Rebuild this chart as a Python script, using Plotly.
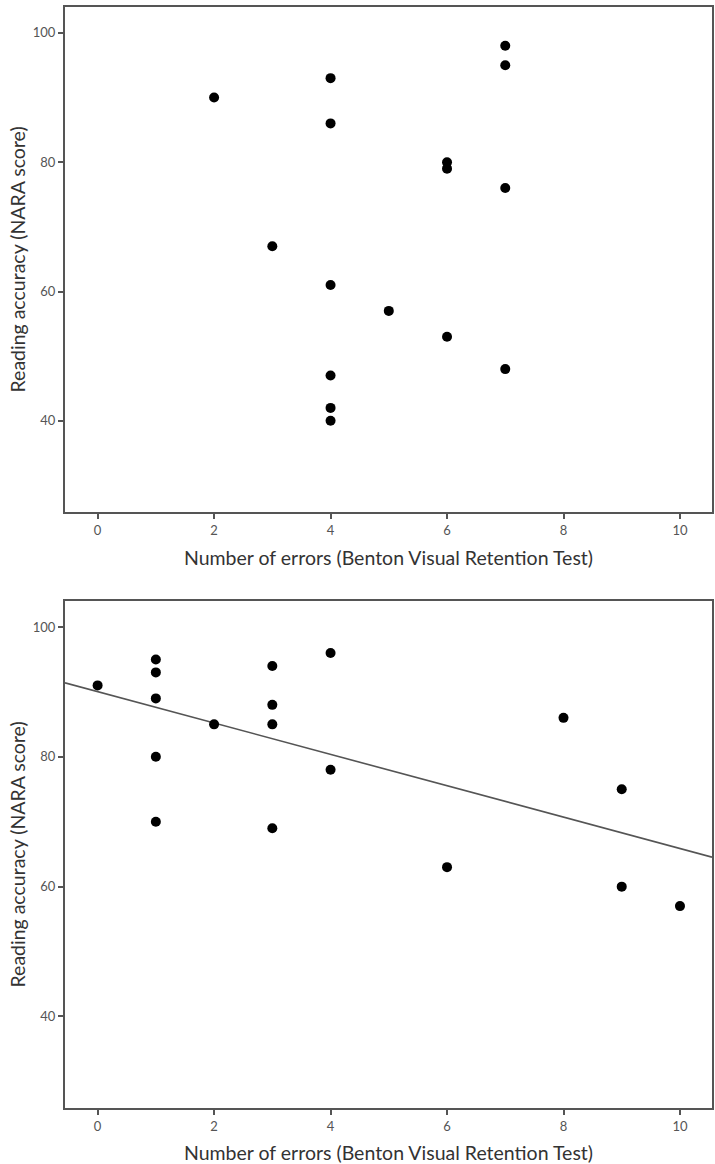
import numpy as np
import plotly.graph_objects as go

# Top panel data
top_errors = [2, 3, 4, 4, 4, 4, 4, 4, 5, 6, 6, 6, 7, 7, 7, 7]
top_nara = [90, 67, 93, 86, 61, 47, 42, 40, 57, 80, 79, 53, 98, 95, 76, 48]

# Bottom panel data
bot_errors = [0, 1, 1, 1, 1, 1, 2, 3, 3, 3, 3, 4, 4, 6, 8, 9, 9, 10]
bot_nara = [91, 95, 93, 89, 80, 70, 85, 94, 88, 85, 69, 96, 78, 63, 86, 75, 60, 57]

x_ticks = [0, 2, 4, 6, 8, 10]
y_ticks = [40, 60, 80, 100]
x_title = "Number of errors (Benton Visual Retention Test)"
y_title = "Reading accuracy (NARA score)"

W, H = 715, 1164
XR = [-0.56, 10.55]
YR = [25.9, 104.0]

# linear fit for bottom panel
slope, intercept = np.polyfit(bot_errors, bot_nara, 1)
fit_x = np.array(XR)
fit_y = slope * fit_x + intercept

fig = go.Figure()
marker = dict(color="black", size=10, line=dict(width=0))
fig.add_trace(go.Scatter(x=top_errors, y=top_nara, mode="markers", marker=marker,
                         xaxis="x", yaxis="y", showlegend=False))
fig.add_trace(go.Scatter(x=fit_x, y=fit_y, mode="lines", line=dict(color="#555555", width=1.6),
                         xaxis="x2", yaxis="y2", showlegend=False, cliponaxis=True))
fig.add_trace(go.Scatter(x=bot_errors, y=bot_nara, mode="markers", marker=marker,
                         xaxis="x2", yaxis="y2", showlegend=False))

xdom = [65 / W, 712 / W]
top_dom = [1 - 512 / H, 1 - 7 / H]
bot_dom = [1 - 1108 / H, 1 - 601 / H]

tickfont = dict(family="Lato", size=13, color="#555555")
axcommon = dict(showline=True, linecolor="#555555", linewidth=2, mirror=True,
                showgrid=False, zeroline=False, ticks="outside", ticklen=5,
                tickwidth=1.5, tickcolor="#555555", tickfont=tickfont)

fig.update_layout(
    width=W, height=H,
    margin=dict(l=0, r=0, t=0, b=0),
    paper_bgcolor="white", plot_bgcolor="white",
    xaxis=dict(domain=xdom, range=XR, tickvals=x_ticks, anchor="y", **axcommon),
    yaxis=dict(domain=top_dom, range=YR, tickvals=y_ticks, anchor="x", **axcommon),
    xaxis2=dict(domain=xdom, range=XR, tickvals=x_ticks, anchor="y2", **axcommon),
    yaxis2=dict(domain=bot_dom, range=YR, tickvals=y_ticks, anchor="x2", **axcommon),
)

titlefont = dict(family="Lato", size=19.5, color="#333333")
anns = []
for ycen_px, yaxis_cen in [(557, (7 + 512) / 2), (1152, (601 + 1108) / 2)]:
    anns.append(dict(text=x_title, x=(65 + 712) / 2 / W, y=1 - ycen_px / H,
                     xref="paper", yref="paper", showarrow=False, font=titlefont,
                     xanchor="center", yanchor="middle"))
    anns.append(dict(text=y_title, x=17 / W, y=1 - yaxis_cen / H,
                     xref="paper", yref="paper", showarrow=False, font=titlefont,
                     textangle=-90, xanchor="center", yanchor="middle"))
fig.update_layout(annotations=anns)

fig.write_html("out.html", config={"displayModeBar": False},
               post_script="document.body.style.margin='0';document.body.style.overflow='hidden';")
